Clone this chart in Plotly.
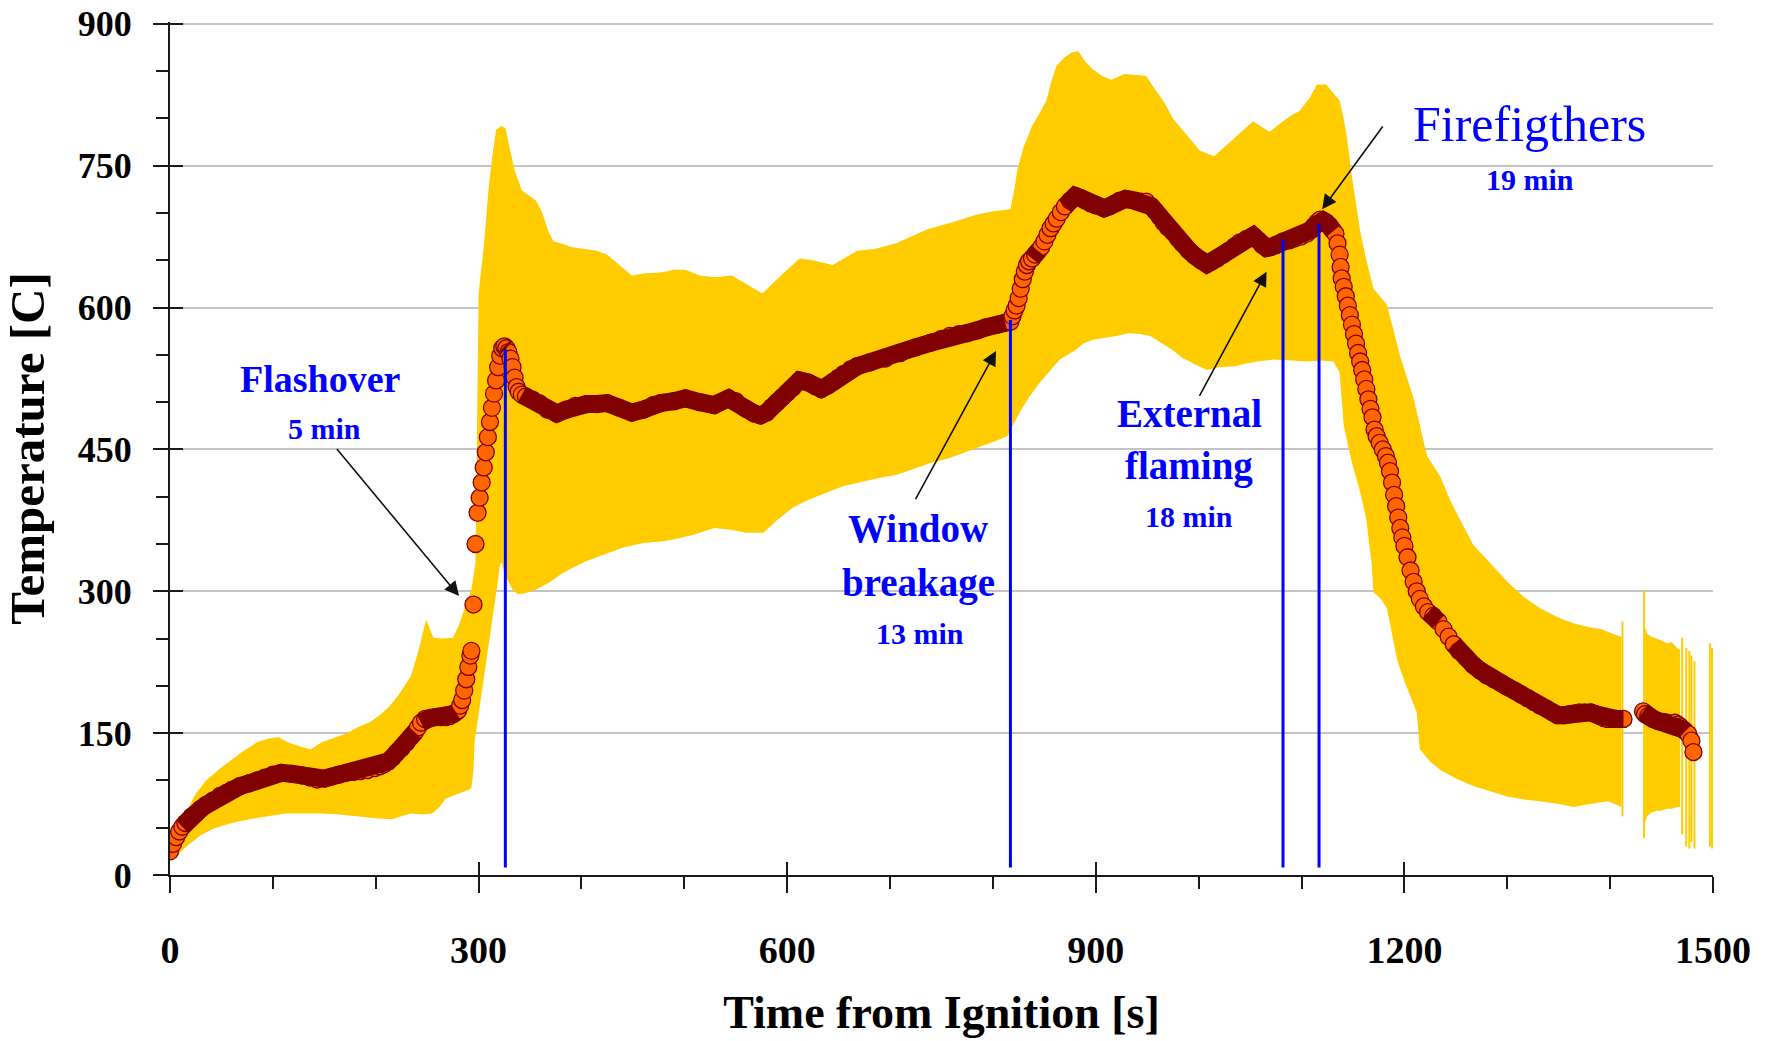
import numpy as np
import plotly.graph_objects as go

# ---------------- data ----------------
# mean temperature (orange markers)
mean_t = [0, 3, 6, 9, 12, 15, 18, 21, 25, 30, 35, 42, 49, 55, 60, 68, 77, 85, 92, 100, 108, 118, 129, 136, 143, 150,
          157, 164, 171, 178, 185, 192, 199, 204, 208, 212, 216, 220, 225, 230, 234, 238, 241, 244, 248, 253, 258, 263,
          268, 272, 275, 278, 280, 282, 284, 286, 288, 290, 292, 293, 295, 297, 299, 301, 303, 305, 307, 309, 311, 313,
          315, 317, 319, 321, 323, 325, 327, 329, 331, 333, 335, 337, 339, 342, 346, 352, 359, 367, 376, 385, 394, 405,
          415, 425, 437, 449, 460, 470, 477, 490, 501, 515, 529, 543, 550, 560, 568, 574, 580, 585, 590, 595, 600, 605,
          612, 620, 627, 633, 640, 645, 650, 655, 662, 668, 680, 695, 710, 725, 740, 750, 758, 767, 775, 785, 793, 805,
          812, 817, 819, 821, 823, 825, 827, 829, 831, 833, 835, 838, 841, 844, 847, 850, 853, 856, 859, 862, 866, 870,
          875, 880, 885, 890, 895, 900, 908, 913, 918, 923, 929, 934, 939, 944, 949, 954, 958, 962, 966, 970, 975, 980,
          984, 990, 996, 1002, 1008, 1013, 1018, 1024, 1029, 1035, 1040, 1047, 1053, 1058, 1062, 1066, 1070, 1075, 1082,
          1088, 1093, 1099, 1105, 1109, 1112, 1115, 1118, 1121, 1124, 1127, 1129, 1131, 1133, 1135, 1137, 1138, 1139,
          1141, 1143, 1145, 1147, 1149, 1151, 1153, 1155, 1157, 1159, 1161, 1163, 1165, 1167, 1169, 1171, 1173, 1176,
          1179, 1182, 1184, 1186, 1188, 1190, 1192, 1194, 1196, 1198, 1200, 1203, 1206, 1209, 1212, 1215, 1219, 1223,
          1228, 1233, 1238, 1243, 1248, 1253, 1260, 1267, 1274, 1280, 1287, 1294, 1300, 1307, 1313, 1320, 1326, 1332,
          1338, 1344, 1349, 1355, 1360, 1365, 1370, 1375, 1381, 1386, 1390, 1394, 1398, 1402, 1406, 1410, 1413,
          1432, 1434, 1437, 1440, 1442, 1446, 1449, 1452, 1455, 1458, 1461, 1463, 1466, 1468, 1471, 1473, 1476, 1479,
          1481]
mean_v = [25, 33, 40, 46, 51, 55, 58, 62, 65, 70, 74, 79, 84, 87, 90, 94, 97, 100, 103, 106, 108, 107, 105, 103, 101, 102,
          104, 106, 108, 109, 110, 111, 113, 115, 117, 120, 124, 129, 134, 140, 146, 151, 156, 161, 165, 166, 167, 167,
          167, 168, 170, 172, 174, 179, 185, 195, 207, 220, 232, 237, 286, 350, 383, 399, 415, 431, 447, 463, 479, 494,
          509, 523, 537, 549, 557, 559, 557, 553, 546, 537, 526, 516, 511, 508, 506, 503, 499, 492, 488, 492, 496, 498,
          498, 499, 494, 489, 492, 497, 499, 501, 504, 500, 497, 504, 501, 493, 488, 486, 489, 495, 500, 505, 510, 515,
          523, 521, 517, 514, 518, 522, 526, 530, 535, 538, 542, 546, 552, 558, 563, 567, 570, 572, 573, 576, 579, 582,
          584, 585, 591, 597, 602, 610, 620, 630, 638, 645, 649, 652, 656, 660, 664, 670, 677, 684, 689, 694, 701, 707,
          713, 718, 716, 713, 710, 708, 705, 707, 710, 713, 715, 714, 713, 712, 712, 707, 702, 696, 690, 685, 680, 673,
          668, 661, 655, 650, 646, 649, 652, 656, 660, 665, 669, 673, 676, 671, 666, 663, 664, 666, 670,
          671, 673, 675, 678, 682, 686, 690, 693, 692, 690, 687, 684, 681, 678, 668, 656, 643, 631,
          622, 612, 602, 592, 582, 572, 562, 552, 543, 534, 524, 514, 503, 493, 484, 471, 464, 457,
          450, 443, 436, 427, 415, 402, 390, 378, 367, 357, 348, 336, 322, 310, 300, 292, 284, 278,
          274, 268, 260, 252, 244, 237, 230, 222, 216, 211, 207, 203, 199, 195, 191, 187, 183, 179,
          176, 172, 169, 169, 170, 171, 172, 172, 172, 170, 168, 166, 165, 165, 165, 165, 165,
          173, 170, 168, 166, 165, 163, 162, 162, 161, 160, 160, 161, 159, 157, 154, 152, 149, 142,
          130]

# min/max envelope (yellow band), main segment
band_up_t = [0, 3, 8, 15, 25, 35, 49, 60, 70, 84, 95, 105, 115, 129, 137, 147, 160, 172, 182, 195, 205, 213, 222, 234,
             241, 247, 249, 252, 256, 265, 275, 280, 286, 293, 297, 299, 300, 305, 310, 314, 317, 322, 326, 330, 335,
             342, 350, 356, 362, 368, 373, 380, 390, 405, 415, 425, 437, 449, 460, 477, 490, 501, 515, 530, 546, 560,
             576, 590, 600, 612, 625, 644, 655, 668, 685, 706, 720, 737, 760, 783, 800, 817, 820, 824, 830, 838, 845,
             852, 857, 862, 870, 877, 883, 890, 897, 906, 915, 928, 940, 949, 958, 966, 975, 987, 1001, 1015, 1025,
             1036, 1045, 1053, 1060, 1069, 1082, 1090, 1098, 1108, 1115, 1124, 1130, 1137, 1141, 1144, 1150, 1157,
             1163, 1170, 1183, 1190, 1196, 1209, 1222, 1235, 1245, 1254, 1267, 1285, 1300, 1315, 1332, 1350, 1365,
             1380, 1391, 1405, 1411]
band_up_v = [30, 42, 49, 65, 86, 100, 113, 122, 130, 140, 144, 146, 140, 135, 133, 140, 145, 150, 156, 162, 170, 178,
             190, 210, 235, 262, 270, 262, 251, 250, 251, 262, 281, 302, 330, 520, 615, 664, 729, 765, 788, 792, 790,
             770, 745, 724, 718, 713, 700, 680, 670, 668, 664, 662, 660, 656, 645, 634, 636, 637, 640, 640, 634, 632,
             634, 625, 615, 630, 640, 652, 650, 645, 652, 660, 662, 668, 675, 683, 690, 698, 702, 704, 720, 747, 770,
             792, 805, 819, 840, 856, 865, 870, 871, 860, 852, 845, 841, 847, 846, 845, 830, 818, 800, 784, 766, 760,
             770, 781, 790, 797, 792, 786, 797, 803, 808, 822, 836, 836, 828, 819, 800, 780, 731, 681, 650, 620, 603,
             575, 548, 504, 443, 421, 395, 376, 349, 328, 310, 295, 282, 272, 266, 262, 260, 254, 252]
band_lo_t = [0, 8, 18, 30, 42, 60, 77, 95, 112, 130, 147, 165, 182, 200, 216, 225, 234, 245, 255, 262, 268, 280, 290,
             293, 295, 296, 300, 303, 308, 314, 318, 321, 323, 325, 328, 333, 338, 345, 356, 370, 380, 390, 405, 425,
             440, 460, 480, 495, 510, 529, 545, 560, 577, 590, 605, 619, 635, 654, 675, 690, 706, 725, 740, 758, 775,
             790, 805, 814, 817, 821, 828, 835, 845, 855, 865, 880, 888, 897, 910, 920, 932, 943, 953, 963, 975, 984,
             996, 1008, 1020, 1036, 1046, 1057, 1072, 1090, 1105, 1120, 1131, 1137, 1141, 1145, 1150, 1157, 1163,
             1168, 1170, 1177, 1183, 1188, 1193, 1200, 1207, 1212, 1215, 1225, 1235, 1250, 1267, 1285, 1300, 1315,
             1332, 1350, 1365, 1380, 1398, 1405, 1411]
band_lo_v = [15, 22, 32, 42, 49, 55, 59, 62, 65, 65, 65, 64, 62, 60, 59, 62, 65, 64, 65, 72, 81, 86, 90, 92, 110, 140,
             170, 194, 230, 275, 305, 329, 330, 318, 313, 302, 297, 298, 302, 310, 318, 324, 332, 340, 346, 351, 353,
             356, 360, 367, 365, 362, 362, 375, 388, 396, 403, 411, 416, 420, 423, 430, 436, 441, 448, 454, 460, 464,
             470, 479, 493, 505, 520, 532, 545, 555, 562, 566, 568, 570, 573, 572, 570, 563, 555, 547, 540, 534, 537,
             538, 541, 543, 545, 544, 543, 544, 543, 531, 476, 455, 432, 405, 376, 330, 299, 292, 282, 255, 227, 205,
             185, 172, 133, 120, 111, 102, 94, 88, 83, 80, 78, 75, 72, 75, 78, 75, 72]

# envelope, short segment after the data gap
tail_up_t = [1434, 1436, 1440, 1445, 1450, 1455, 1460, 1465, 1468]
tail_up_v = [262, 255, 252, 250, 248, 245, 246, 240, 238]
tail_lo_t = [1434, 1436, 1440, 1445, 1450, 1455, 1460, 1465, 1468]
tail_lo_v = [55, 62, 66, 68, 68, 70, 70, 72, 72]

# isolated min/max readings at the end of the test
spike_t = [1412, 1433, 1470, 1474, 1477, 1479, 1482, 1497, 1499]
spike_lo = [62, 39, 43, 30, 28, 35, 28, 30, 28]
spike_hi = [268, 301, 251, 240, 237, 232, 226, 245, 240]

# events (blue vertical lines)
event_t = [326, 817, 1082, 1117]
event_top = [556, 587, 672, 689]
event_base = 8

# ---------------- derived geometry ----------------
band_x = band_up_t + band_lo_t[::-1] + [None] + tail_up_t + tail_lo_t[::-1]
band_y = band_up_v + band_lo_v[::-1] + [None] + tail_up_v + tail_lo_v[::-1]

spike_x, spike_y = [], []
for t, lo, hi in zip(spike_t, spike_lo, spike_hi):
    spike_x += [t, t, None]
    spike_y += [lo, hi, None]

ev_x, ev_y = [], []
for t, top in zip(event_t, event_top):
    ev_x += [t, t, None]
    ev_y += [event_base, top, None]

tt = np.array(mean_t, float)
vv = np.array(mean_v, float)
slope = np.abs(np.gradient(vv, tt))
line_x, line_y = [], []
for i in range(len(tt)):
    if i > 0 and tt[i] - tt[i - 1] > 17:   # data gap (logger drop-out)
        line_x.append(None); line_y.append(None)
    line_x.append(mean_t[i])
    line_y.append(mean_v[i] if slope[i] <= 1.5 else None)

# ---------------- figure ----------------
YEL = '#FFCC00'
DARK = '#800000'
ORG = '#FF6600'
FONT = 'Liberation Serif, Times New Roman, serif'

fig = go.Figure()
fig.add_trace(go.Scatter(x=band_x, y=band_y, mode='lines', fill='toself', fillcolor=YEL,
                         line=dict(width=0, color=YEL), hoverinfo='skip'))
fig.add_trace(go.Scatter(x=spike_x, y=spike_y, mode='lines', line=dict(width=2, color=YEL), hoverinfo='skip'))
fig.add_trace(go.Scatter(x=mean_t, y=mean_v, mode='markers',
                         marker=dict(size=17, color=ORG, line=dict(width=1.3, color=DARK))))
fig.add_trace(go.Scatter(x=line_x, y=line_y, mode='lines', line=dict(width=18, color=DARK), connectgaps=False,
                         hoverinfo='skip'))
fig.add_trace(go.Scatter(x=ev_x, y=ev_y, mode='lines', line=dict(width=3, color='#0000FF'), hoverinfo='skip'))
# helper trace so that the overlay axes (inner halves of the major ticks) render
fig.add_trace(go.Scatter(x=[None], y=[None], xaxis='x2', yaxis='y2', hoverinfo='skip'))

axis_col = '#1a1a1a'
Y_RANGE = [0, 902]
fig.update_layout(
    width=1768, height=1041,
    margin=dict(l=170, r=55, t=22, b=166, autoexpand=False),
    paper_bgcolor='white', plot_bgcolor='white',
    showlegend=False,
    font=dict(family=FONT, color='black'),
    xaxis=dict(range=[0, 1500], tick0=0, dtick=300, ticks='outside', ticklen=16, tickwidth=2, tickcolor=axis_col,
               showline=True, linecolor=axis_col, linewidth=2, showgrid=False, zeroline=False, automargin=False,
               ticklabeloverflow='allow',
               tickfont=dict(size=38, weight='bold', family=FONT, color='black'), ticklabelstandoff=24,
               minor=dict(dtick=100, ticks='outside', ticklen=12, tickwidth=2, tickcolor=axis_col, showgrid=False),
               title=dict(text='Time from Ignition [s]', font=dict(size=46, weight='bold', family=FONT), standoff=26)),
    yaxis=dict(range=Y_RANGE, tick0=0, dtick=150, ticks='outside', ticklen=15, tickwidth=2, tickcolor=axis_col,
               showline=True, linecolor=axis_col, linewidth=2, showgrid=True, gridcolor='#C4C4C4', gridwidth=1.5,
               zeroline=False, automargin=False, ticklabeloverflow='allow',
               tickfont=dict(size=36, weight='bold', family=FONT, color='black'), ticklabelstandoff=14,
               minor=dict(dtick=50, ticks='outside', ticklen=12, tickwidth=2, tickcolor=axis_col, showgrid=False),
               title=dict(text='Temperature [C]', font=dict(size=49, weight='bold', family=FONT), standoff=20)),
    xaxis2=dict(overlaying='x', anchor='y', side='bottom', range=[0, 1500], tick0=0, dtick=300, ticks='inside',
                ticklen=13, tickwidth=2, tickcolor=axis_col, showticklabels=False, showgrid=False, showline=False,
                zeroline=False, automargin=False),
    yaxis2=dict(overlaying='y', anchor='x', side='left', range=Y_RANGE, tick0=0, dtick=150, ticks='inside',
                ticklen=13, tickwidth=2, tickcolor=axis_col, showticklabels=False, showgrid=False, showline=False,
                zeroline=False, automargin=False),
)

BLUE = '#0000FF'
labels = [
    ('Flashover', 146, 525, 38, 'bold'),
    ('5 min', 150, 472, 30, 'bold'),
    ('Window', 727, 366, 39, 'bold'),
    ('breakage', 728, 309, 39, 'bold'),
    ('13 min', 729, 255, 30, 'bold'),
    ('External', 991, 488, 39, 'bold'),
    ('flaming', 991, 433, 39, 'bold'),
    ('18 min', 991, 379, 30, 'bold'),
    ('Firefigthers', 1322, 794, 50, 'normal'),
    ('19 min', 1322, 735, 30, 'bold'),
]
for txt, x, y, size, w in labels:
    fig.add_annotation(x=x, y=y, xref='x', yref='y', text=txt, showarrow=False, xanchor='center', yanchor='middle',
                       font=dict(size=size, color=BLUE, family=FONT, weight=w))

arrows = [
    (281, 295, 161, 452),
    (803, 554, 724, 396),
    (1066, 638, 1000, 505),
    (1120, 704, 1180, 793),
]
for hx, hy, tx, ty in arrows:
    fig.add_annotation(x=hx, y=hy, ax=tx, ay=ty, xref='x', yref='y', axref='x', ayref='y', text='',
                       showarrow=True, arrowhead=2, arrowsize=1.8, arrowwidth=1.6, arrowcolor='#111111',
                       standoff=0, startstandoff=0)

# remove the browser's default page margin so the figure sits at the window's top-left corner
fig.write_html('out.html', config={'displayModeBar': False},
               post_script="document.body.style.margin='0';")
